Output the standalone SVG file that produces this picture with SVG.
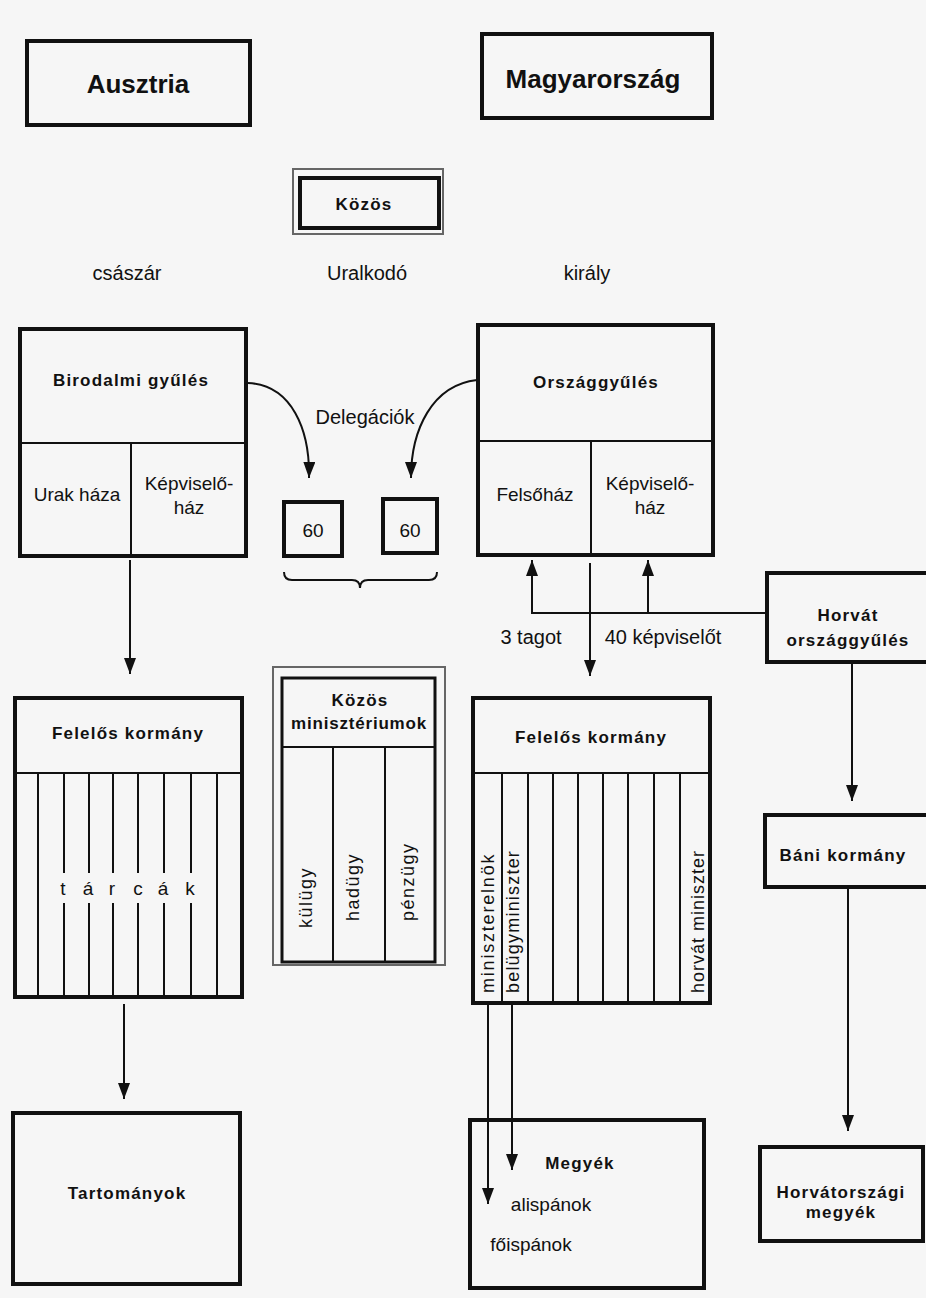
<svg xmlns="http://www.w3.org/2000/svg" width="926" height="1298" viewBox="0 0 926 1298">
<defs>
<style>
text{font-family:"Liberation Sans",Arial,sans-serif;fill:#111;}
.big{font-size:26px;font-weight:bold;text-anchor:middle;}
.ttl{font-size:17px;font-weight:bold;text-anchor:middle;letter-spacing:1.2px;}
.reg{font-size:19px;text-anchor:middle;}
.lbl{font-size:20px;text-anchor:middle;}
.rot{font-size:18px;}
.box{fill:none;stroke:#111;stroke-width:4;}
.sub{fill:none;stroke:#111;stroke-width:2;}
.shadow{fill:none;stroke:#666;stroke-width:2;}
.con{fill:none;stroke:#111;stroke-width:2;}
</style>
<marker id="ad" viewBox="0 0 16 12" refX="16" refY="6" markerWidth="16" markerHeight="12" markerUnits="userSpaceOnUse" orient="auto">
<path d="M0,0 L16,6 L0,12 Z" fill="#111"/>
</marker>
</defs>
<rect width="926" height="1298" fill="#f6f6f6"/>

<g id="ausztria">
<rect class="box" x="27" y="41" width="223" height="84"/>
<text class="big" x="138" y="93">Ausztria</text>
</g>
<g id="magyarorszag">
<rect class="box" x="482" y="34" width="230" height="84"/>
<text class="big" x="593" y="88">Magyarország</text>
</g>
<g id="kozos">
<rect class="shadow" x="293" y="169" width="150" height="65"/>
<rect class="box" x="300" y="178" width="139" height="50"/>
<text class="ttl" x="364" y="210">Közös</text>
</g>
<g id="uralkodo-labels">
<text class="lbl" x="127" y="280">császár</text>
<text class="lbl" x="367" y="280">Uralkodó</text>
<text class="lbl" x="587" y="280">király</text>
</g>

<g id="birodalmi">
<rect class="box" x="20" y="329" width="226" height="227"/>
<line class="sub" x1="20" y1="443" x2="246" y2="443"/>
<line class="sub" x1="131" y1="443" x2="131" y2="556"/>
<text class="ttl" x="131" y="386">Birodalmi gyűlés</text>
<text class="reg" x="77" y="501">Urak háza</text>
<text class="reg" x="189" y="490">Képviselő-</text>
<text class="reg" x="189" y="514">ház</text>
</g>

<g id="orszaggyules">
<rect class="box" x="478" y="325" width="235" height="230"/>
<line class="sub" x1="478" y1="441" x2="713" y2="441"/>
<line class="sub" x1="591" y1="441" x2="591" y2="555"/>
<text class="ttl" x="596" y="388">Országgyűlés</text>
<text class="reg" x="535" y="501">Felsőház</text>
<text class="reg" x="650" y="490">Képviselő-</text>
<text class="reg" x="650" y="514">ház</text>
</g>

<g id="deleg60a">
<rect class="box" x="284" y="502" width="58" height="54"/>
<text class="reg" x="313" y="537">60</text>
</g>
<g id="deleg60b">
<rect class="box" x="383" y="499" width="54" height="54"/>
<text class="reg" x="410" y="537">60</text>
</g>
<text class="lbl" x="365" y="424">Delegációk</text>
<text class="lbl" x="531" y="644">3 tagot</text>
<text class="lbl" x="663" y="644">40 képviselőt</text>

<g id="felelos-at">
<rect class="box" x="15" y="698" width="227" height="299"/>
<line class="sub" x1="15" y1="773" x2="242" y2="773"/>
<line class="sub" x1="38" y1="773" x2="38" y2="997"/>
<line class="sub" x1="217" y1="773" x2="217" y2="997"/>
<path class="sub" d="M64,773V873M64,903V997M89,773V873M89,903V997M113,773V873M113,903V997M138,773V873M138,903V997M164,773V873M164,903V997M191,773V873M191,903V997"/>
<text class="ttl" x="128" y="739">Felelős kormány</text>
<text class="reg" x="63" y="895">t</text>
<text class="reg" x="88" y="895">á</text>
<text class="reg" x="112" y="895">r</text>
<text class="reg" x="138" y="895">c</text>
<text class="reg" x="163" y="895">á</text>
<text class="reg" x="190" y="895">k</text>
</g>

<g id="kozos-min">
<rect class="shadow" x="273" y="667" width="172" height="298"/>
<rect class="box" x="282" y="678" width="153" height="284" style="stroke-width:3"/>
<line class="sub" x1="282" y1="747" x2="435" y2="747"/>
<line class="sub" x1="333" y1="747" x2="333" y2="962"/>
<line class="sub" x1="385" y1="747" x2="385" y2="962"/>
<text class="ttl" x="360" y="706">Közös</text>
<text class="ttl" x="359" y="729" style="letter-spacing:0.8px">minisztériumok</text>
<text class="rot" transform="translate(312,928) rotate(-90)" style="letter-spacing:1.5px">külügy</text>
<text class="rot" transform="translate(359,921) rotate(-90)" style="letter-spacing:1.5px">hadügy</text>
<text class="rot" transform="translate(414,921) rotate(-90)" style="letter-spacing:1.5px">pénzügy</text>
</g>

<g id="felelos-hu">
<rect class="box" x="473" y="698" width="237" height="305"/>
<line class="sub" x1="473" y1="773" x2="710" y2="773"/>
<path class="sub" d="M502,773V1003M528,773V1003M553,773V1003M578,773V1003M603,773V1003M628,773V1003M654,773V1003M680,773V1003"/>
<text class="ttl" x="591" y="743">Felelős kormány</text>
<text class="rot" transform="translate(494,993) rotate(-90)" style="letter-spacing:1.8px">miniszterelnök</text>
<text class="rot" transform="translate(519,993) rotate(-90)" style="letter-spacing:1.2px">belügyminiszter</text>
<text class="rot" transform="translate(704,993) rotate(-90)" style="letter-spacing:1px">horvát miniszter</text>
</g>

<g id="horvat-orszaggyules">
<rect class="box" x="767" y="573" width="162" height="89"/>
<text class="ttl" x="848" y="621">Horvát</text>
<text class="ttl" x="848" y="646">országgyűlés</text>
</g>
<g id="bani">
<rect class="box" x="765" y="815" width="164" height="72"/>
<text class="ttl" x="843" y="861">Báni kormány</text>
</g>

<g id="tartomanyok">
<rect class="box" x="13" y="1113" width="227" height="171"/>
<text class="ttl" x="127" y="1199">Tartományok</text>
</g>
<g id="megyek">
<rect class="box" x="470" y="1120" width="234" height="168"/>
<text class="ttl" x="580" y="1169">Megyék</text>
<text class="reg" x="551" y="1211">alispánok</text>
<text class="reg" x="531" y="1251">főispánok</text>
</g>
<g id="horvat-megyek">
<rect class="box" x="760" y="1147" width="163" height="94"/>
<text class="ttl" x="841" y="1198">Horvátországi</text>
<text class="ttl" x="841" y="1218">megyék</text>
</g>

<g id="connectors">
<path class="con" d="M248,383 C292,385 310,430 309,478" marker-end="url(#ad)"/>
<path class="con" d="M477,380 C432,385 411,430 411,478" marker-end="url(#ad)"/>
<path class="con" d="M284,572 Q284,580 292,580 L352,580 Q360,580 360,588 Q360,580 368,580 L429,580 Q437,580 437,572"/>
<path class="con" d="M130,560 L130,674" marker-end="url(#ad)"/>
<path class="con" d="M590,563 L590,676" marker-end="url(#ad)"/>
<path class="con" d="M767,613 L532,613 L532,560" marker-end="url(#ad)"/>
<path class="con" d="M648,613 L648,560" marker-end="url(#ad)"/>
<path class="con" d="M852,662 L852,801" marker-end="url(#ad)"/>
<path class="con" d="M848,887 L848,1131" marker-end="url(#ad)"/>
<path class="con" d="M124,1004 L124,1099" marker-end="url(#ad)"/>
<path class="con" d="M488,1003 L488,1204" marker-end="url(#ad)"/>
<path class="con" d="M512,1003 L512,1170" marker-end="url(#ad)"/>
</g>
</svg>
